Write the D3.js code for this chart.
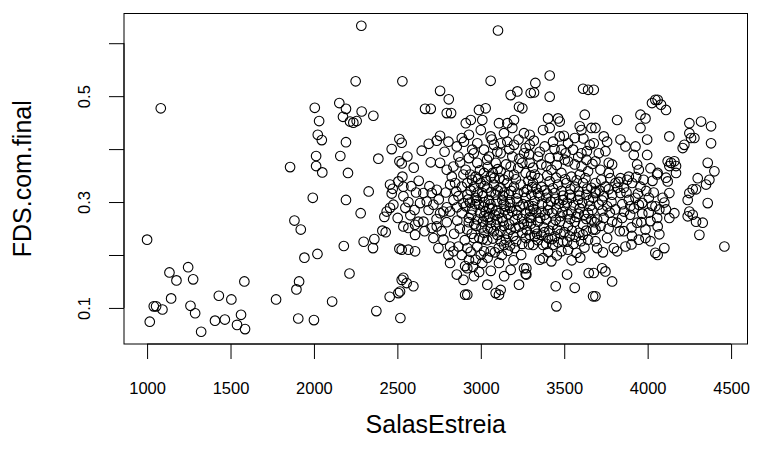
<!DOCTYPE html>
<html lang="en">
<head>
<meta charset="utf-8">
<title>FDS.com.final vs SalasEstreia</title>
<script src="https://d3js.org/d3.v7.min.js"></script>
<style>
  body { margin: 0; background: #fff; }
  svg text { font-family: "Liberation Sans", Arial, Helvetica, sans-serif; fill: #000; }
</style>
</head>
<body>
<div id="chart"></div>
<script>
// points, left to right roughly by region
var salasEstreia = [
  1082,1000,1134,1176,1246,1276,1583,1040,1054,1092,1144,1016,1260,1288,1324,1430,1505,1407,1466,1563,1539,1587,
  2284,2250,2530,2005,2152,2192,2174,2216,2236,2256,2286,2356,2031,2023,2047,2192,2013,2158,2013,2050,2204,1857,
  2386,1993,2192,2328,2280,1883,1921,1943,2021,2179,2298,2354,2362,2410,2430,1911,1895,1773,2109,2213,1906,2000,
  2374,2454,2506,2516,2526,2518,2512,2512,2526,2466,2512,2526,2456,2472,2506,2466,2476,2456,2436,2422,2502,
  2756,2808,2666,2700,2796,2822,2560,2646,2736,2756,2806,2856,2886,2756,2796,2836,2866,2876,2826,2896,2530,
  2536,2536,2548,2656,2676,2706,2736,2636,2716,2776,2816,2836,2866,2896,2816,2846,2886,2886,2756,2796,
  2536,2566,2606,2626,2656,2606,2706,2736,2766,2716,2776,2746,2816,2806,2836,2866,2886,2816,2856,2906,
  2896,2906,2526,2566,2606,2536,2556,2596,
  3103,3059,3179,3219,3229,3249,3299,2989,3029,2940,3009,2910,3000,3109,3159,3199,3189,2929,3059,3139,
  3259,2899,2979,3079,3119,3159,3199,3269,2949,3019,3049,3119,3189,3259,2929,2979,3089,3179,3249,2909,
  3019,3059,3119,3199,3269,2969,
  2919,2959,2999,3039,3079,3119,3159,3199,3239,3279,2919,2969,3009,3049,3089,3129,3169,3219,3269,
  2909,2949,2989,3029,3069,3109,3149,3189,3219,3269,2929,2979,3019,3059,3099,3139,3179,3209,3249,3279,
  3269,3289,2919,2959,3019,3099,3139,3119,2919,2979,3019,3059,2929,2969,3009,2919,2959,3109,3179,3259,
  3269,3229,3039,3089,3109,3119,2919,
  3413,3327,3319,3413,3613,3643,3403,3463,3473,3623,3373,3413,3593,3603,3663,3293,3473,3433,3563,3523,
  3293,3383,3653,3483,3553,3603,3343,3413,3463,3633,3293,3363,3523,3563,3423,3483,3643,3323,3543,3593,
  3313,3363,3413,3463,3513,3563,3613,3663,3303,3343,3393,3443,3493,3533,3583,3633,3673,
  3313,3363,3403,3453,3503,3543,3593,3643,3303,3343,3393,3433,3473,3523,3563,3613,3663,
  3293,3323,3363,3403,3443,3493,3533,3643,3673,3313,3373,3433,3483,3523,3573,3353,3373,3423,
  3273,3273,3517,3647,3449,3563,3673,3453,
  3677,4046,4026,3817,3957,3987,3957,3997,3687,3737,3757,3837,3867,3677,3927,3917,3997,3707,3747,3687,
  3767,3787,3937,3947,4017,3717,3837,3887,4057,3767,
  3687,3747,3807,3857,3907,3957,3687,3737,3787,3837,3887,3927,3967,4007,4047,3707,3757,3807,3917,3947,
  3697,3737,3787,3847,3817,3937,3987,4017,4057,3687,3857,3947,3987,4017,4046,3687,3697,3797,3817,3867,
  3677,3727,3747,3787,3687,
  4060,4080,4110,4250,4320,4380,4130,4250,4260,4280,4220,4210,4380,4120,4140,4160,4170,4130,4060,4110,
  4170,4360,4400,4300,4370,
  4120,4350,4130,4090,4100,4070,4110,4160,4130,4060,4070,4100,4060,4250,4270,4290,4240,4250,4270,4240,
  4290,4330,4310,4360,4460
];
var fdsComFinal = [
  .477,.229,.167,.152,.177,.154,.150,.103,.103,.097,.118,.074,.104,.090,.055,.123,.116,.076,.078,.087,.068,.060,
  .633,.528,.528,.478,.487,.476,.461,.452,.450,.453,.471,.463,.453,.427,.417,.413,.387,.387,.368,.356,.355,.366,
  .382,.308,.304,.320,.279,.265,.248,.195,.202,.217,.225,.213,.230,.246,.243,.150,.135,.116,.112,.165,.080,.077,
  .094,.121,.128,.131,.153,.081,.212,.419,.412,.400,.377,.373,.333,.325,.339,.316,.295,.289,.282,.272,.270,
  .510,.494,.476,.476,.468,.468,.386,.397,.416,.425,.414,.405,.421,.374,.361,.367,.386,.375,.348,.352,.348,
  .329,.311,.289,.317,.301,.317,.323,.298,.295,.282,.282,.304,.311,.298,.333,.336,.329,.279,.279,.290,
  .254,.251,.257,.263,.263,.238,.251,.254,.245,.232,.229,.213,.216,.200,.207,.216,.200,.185,.163,.179,
  .153,.125,.210,.210,.207,.157,.147,.141,
  .624,.529,.502,.509,.480,.477,.506,.474,.477,.455,.455,.449,.436,.449,.449,.455,.440,.427,.424,.430,
  .430,.414,.411,.408,.411,.414,.408,.402,.399,.399,.386,.392,.386,.392,.383,.374,.374,.367,.374,.361,
  .355,.348,.358,.352,.355,.348,
  .336,.329,.336,.327,.333,.327,.336,.329,.333,.324,.314,.308,.317,.304,.314,.304,.314,.301,.308,
  .292,.286,.295,.282,.288,.279,.292,.282,.276,.279,.270,.267,.273,.261,.267,.255,.248,.251,.242,.261,
  .232,.220,.248,.232,.242,.238,.219,.226,.213,.216,.207,.207,.191,.191,.185,.175,.160,.185,.172,.175,
  .164,.144,.144,.128,.125,.134,.125,
  .539,.525,.507,.499,.514,.512,.458,.458,.452,.465,.436,.440,.443,.436,.440,.427,.424,.414,.421,.411,
  .408,.405,.408,.399,.399,.392,.386,.383,.386,.380,.374,.371,.377,.371,.361,.355,.358,.352,.348,.352,
  .336,.329,.339,.333,.336,.329,.336,.327,.314,.317,.308,.317,.304,.314,.304,.314,.308,
  .292,.282,.295,.286,.292,.282,.288,.279,.270,.263,.267,.257,.263,.255,.263,.257,.267,
  .238,.235,.238,.232,.235,.226,.235,.229,.248,.219,.219,.219,.207,.210,.204,.191,.194,.188,
  .175,.163,.163,.166,.141,.138,.122,.103,
  .512,.493,.487,.455,.465,.458,.440,.418,.440,.424,.414,.418,.405,.411,.405,.389,.389,.392,.396,.377,
  .374,.371,.371,.361,.364,.361,.345,.348,.352,.355,
  .336,.329,.336,.327,.336,.329,.317,.311,.314,.317,.304,.308,.298,.308,.292,.295,.292,.286,.288,.295,
  .267,.270,.263,.270,.261,.261,.248,.264,.270,.248,.245,.229,.232,.226,.204,.226,.213,.213,.207,.216,
  .166,.175,.169,.150,.122,
  .493,.484,.474,.449,.452,.443,.424,.430,.421,.421,.408,.402,.411,.377,.374,.377,.368,.368,.355,.346,
  .355,.374,.358,.345,.342,
  .339,.333,.317,.308,.299,.286,.286,.279,.270,.254,.239,.213,.200,.317,.324,.324,.304,.282,.276,.273,
  .263,.261,.238,.298,.216
];
// overplotted points in the dense core, estimated
var coreSalas = [
  2939,2981,3022,3061,3101,3141,3182,3221,3258,2935,2975,3016,3058,3094,3137,3175,3236,3287,
  2944,2996,3041,3083,3126,3163,3203,3247,3292,2961,3004,3041,3078,3118,3160,3194,3231,3275,
  2946,2991,3038,3073,3151,3212,3248,2904,2939,3000,3041,3084,3126,3162,3203,3242,
  2953,2990,3060,3140,3196,
  3333,3382,3432,3484,3537,3588,3637,3688,3322,3368,3419,3468,3516,3558,3608,3656,
  3333,3383,3428,3477,3521,3573,3620,3668,3324,3376,3411,3458,3501,3546,3590,3632,
  3342,3392,3463,3556,3601,3621,3403,3456,3545,3596,
  2937,2995,3041,3101,3151,3224,3285,2958,3038,3099,3171,3231,3290,3066,3226,2948,3139,3079,
  3345,3398,3451,3505,3575,3627,3313,3393,3455,3503,3604,3669,3353,3442,3508,3584,3636,3318,3498,3615,
  3722,3776,3827,3877,3931,3976,4029,3712,3767,3818,3873,3942,3991,4036,3727,3783,3848,3896,4026,
  3729,3773,3858,3895,3968,4006,3718,3766,3833,3903,3962,3757,3906,3732,3903,
  2583,2612,2628,2692,2748,2790,2853,2566,2603,2687,2735,2796,2859,2578,2663,2840,2874,2858,2598,2700,
  2783,2688,
  2925,2968,3012,3051,3093,3132,3174,3213,3252,3296,2928,2972,3013,3051,3092,3133,3171,3214,3257,3301,
  2984,3031,3072,3112,3166,3210,3302,3308,3352,3398,3447,3492,3541,3591,3648,
  3316,3356,3404,3449,3489,3536,3584,3632,3681,3337,3381,3426,3478,3517,3569,3612,
  3012,3107,3176,3060,3022,3143
];
var coreFds = [
  .322,.318,.330,.319,.322,.318,.321,.316,.319,.299,.303,.291,.296,.301,.297,.300,.291,.294,
  .276,.280,.271,.276,.270,.277,.266,.268,.271,.258,.252,.250,.245,.246,.240,.236,.254,.247,
  .240,.232,.228,.231,.229,.226,.221,.228,.206,.200,.195,.205,.200,.208,.213,.200,
  .178,.168,.170,.160,.190,
  .325,.322,.326,.321,.324,.320,.325,.320,.302,.297,.301,.297,.299,.294,.298,.293,
  .280,.276,.279,.273,.277,.272,.276,.285,.249,.252,.246,.248,.243,.246,.242,.246,
  .228,.221,.224,.221,.226,.214,.206,.199,.190,.195,
  .352,.360,.366,.362,.371,.364,.340,.392,.380,.395,.400,.382,.390,.418,.418,.342,.342,.345,
  .345,.350,.346,.343,.341,.345,.365,.368,.370,.380,.367,.372,.395,.400,.392,.385,.396,.416,.425,.420,
  .342,.345,.338,.342,.347,.342,.340,.322,.324,.327,.318,.316,.321,.318,.303,.300,.296,.292,.293,
  .284,.280,.282,.276,.278,.280,.255,.250,.245,.252,.262,.232,.236,.205,.220,
  .330,.318,.340,.330,.305,.318,.320,.300,.285,.285,.268,.262,.265,.275,.245,.240,.250,.290,.365,.375,
  .395,.410,
  .305,.296,.311,.289,.284,.312,.289,.307,.296,.283,.262,.255,.263,.272,.256,.264,.258,.285,.258,.259,
  .344,.341,.355,.345,.350,.343,.350,.328,.311,.316,.306,.312,.308,.312,.303,
  .287,.270,.285,.266,.281,.268,.278,.268,.262,.240,.243,.230,.240,.225,.234,.238,
  .230,.213,.218,.250,.300,.284
];
var xTicks = [1000, 1500, 2000, 2500, 3000, 3500, 4000, 4500];
var yTicks = [0.1, 0.2, 0.3, 0.4, 0.5, 0.6];
var yLabelled = [0.1, 0.3, 0.5];

var W = 758, H = 457;
var plot = { left: 124, right: 747.5, top: 13.5, bottom: 344 };
var tick = 15;
var axisFont = "16.5px", titleFont = "25px";

var allX = salasEstreia.concat(coreSalas);
var allY = fdsComFinal.concat(coreFds);
var data = allX.map(function(d, i) { return { x: d, y: allY[i] }; });

// R-style range: data extent padded by 4% each side
function pad(ext) {
  var p = (ext[1] - ext[0]) * 0.04;
  return [ext[0] - p, ext[1] + p];
}

var x = d3.scaleLinear().domain(pad(d3.extent(allX))).range([plot.left, plot.right]);
var y = d3.scaleLinear().domain(pad(d3.extent(allY))).range([plot.bottom, plot.top]);

var svg = d3.select("#chart").append("svg")
  .attr("width", W)
  .attr("height", H);

// points
svg.append("g")
  .selectAll("circle")
  .data(data)
  .enter()
  .append("circle")
    .attr("cx", function(d) { return x(d.x); })
    .attr("cy", function(d) { return y(d.y); })
    .attr("r", 4.8)
    .style("fill", "none")
    .style("stroke", "#000")
    .style("stroke-width", 1.1);

// box
svg.append("rect")
  .attr("x", plot.left)
  .attr("y", plot.top)
  .attr("width", plot.right - plot.left)
  .attr("height", plot.bottom - plot.top)
  .style("fill", "none")
  .style("stroke", "#000")
  .style("stroke-width", 1);

// x axis
var gx = svg.append("g").attr("transform", "translate(0," + plot.bottom + ")")
  .call(d3.axisBottom(x).tickValues(xTicks).tickSize(tick).tickFormat(d3.format("d")));
gx.select(".domain").remove();
gx.append("line")
  .attr("x1", x(xTicks[0])).attr("x2", x(xTicks[xTicks.length - 1]))
  .attr("stroke", "#000");
gx.selectAll(".tick text")
  .attr("y", 44).attr("dy", null)
  .attr("dominant-baseline", "central")
  .style("font-size", axisFont).style("font-family", null);

// y axis, only every other label fits in R
var gy = svg.append("g").attr("transform", "translate(" + plot.left + ",0)")
  .call(d3.axisLeft(y).tickValues(yTicks).tickSize(tick)
    .tickFormat(function(d) { return yLabelled.indexOf(d) >= 0 ? d3.format(".1f")(d) : ""; }));
gy.select(".domain").remove();
gy.append("line")
  .attr("y1", y(yTicks[0])).attr("y2", y(yTicks[yTicks.length - 1]))
  .attr("stroke", "#000");
gy.selectAll(".tick text")
  .attr("x", null).attr("dy", null)
  .attr("transform", "translate(-40,0) rotate(-90)")
  .attr("text-anchor", "middle")
  .attr("dominant-baseline", "central")
  .style("font-size", axisFont).style("font-family", null);

// axis titles
svg.append("text")
  .attr("x", (plot.left + plot.right) / 2)
  .attr("y", 424)
  .attr("text-anchor", "middle")
  .attr("dominant-baseline", "central")
  .style("font-size", titleFont)
  .text("SalasEstreia");

svg.append("text")
  .attr("transform", "translate(22," + ((plot.top + plot.bottom) / 2) + ") rotate(-90)")
  .attr("text-anchor", "middle")
  .attr("dominant-baseline", "central")
  .style("font-size", titleFont)
  .text("FDS.com.final");
</script>
</body>
</html>
